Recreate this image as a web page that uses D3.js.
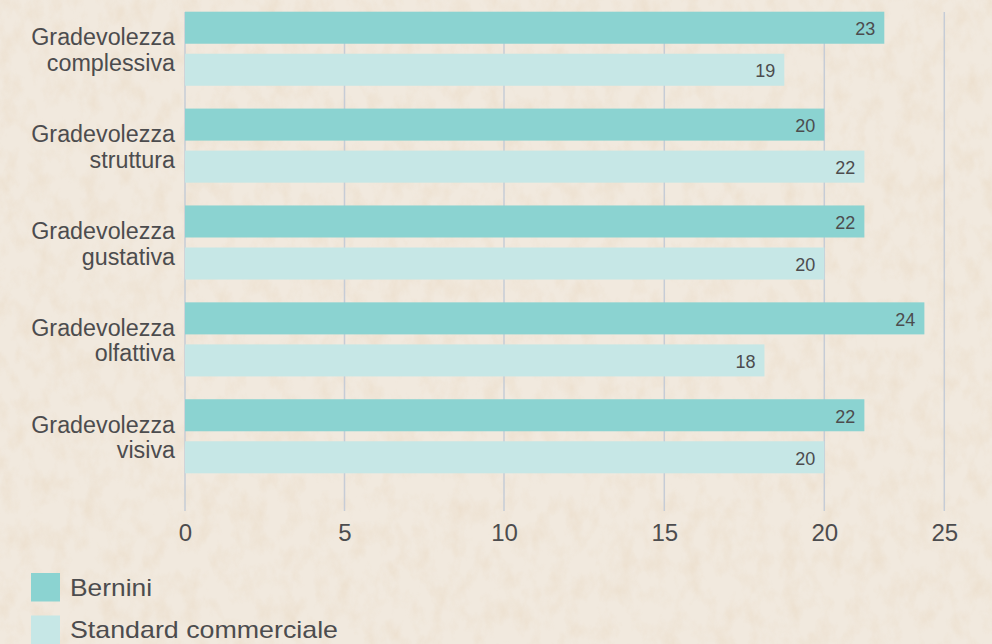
<!DOCTYPE html>
<html>
<head>
<meta charset="utf-8">
<script src="https://cdn.jsdelivr.net/npm/d3@7"></script>
<style>
  html, body { margin: 0; padding: 0; background: #efe5d8; }
  svg { display: block; }
</style>
</head>
<body>
<svg id="chart" width="992" height="644"></svg>
<script>
// categories (two-line labels)
const categories = [
    ["Gradevolezza", "complessiva"],
    ["Gradevolezza", "struttura"],
    ["Gradevolezza", "gustativa"],
    ["Gradevolezza", "olfattiva"],
    ["Gradevolezza", "visiva"]
];
const series = ["Bernini", "Standard commerciale"];

// printed values
const berniniValues = [23, 20, 22, 24, 22];
const standardValues = [19, 22, 20, 18, 20];

// bar lengths as drawn, read against the axis
const berniniBars = [22.5, 20, 21.67, 24.17, 21.67];
const standardBars = [18.75, 21.67, 20, 18.13, 20];

// axis ticks and where the original put them
const tickValues = [0, 5, 10, 15, 20, 25];
const tickPos = [185, 344.5, 504, 664.3, 824.3, 944.3];

const colors = ["#8bd3d1", "#c6e7e6"];
const textColor = "#4c4c4e";
const font = "'Liberation Sans', Arial, Helvetica, sans-serif";

const svg = d3.select("#chart");
const W = 992, H = 644;

// paper background
const defs = svg.append("defs");
const f = defs.append("filter").attr("id", "paper")
    .attr("x", 0).attr("y", 0).attr("width", "100%").attr("height", "100%");
f.append("feTurbulence").attr("type", "fractalNoise")
    .attr("baseFrequency", "0.06 0.04").attr("numOctaves", 4).attr("seed", 7);
f.append("feColorMatrix").attr("type", "matrix")
    .attr("values", "0 0 0 0 0.78  0 0 0 0 0.62  0 0 0 0 0.44  1.8 0 0 0 -0.75");

svg.append("rect").attr("width", W).attr("height", H).attr("fill", "#f1e9de");
svg.append("rect").attr("width", W).attr("height", H)
    .attr("filter", "url(#paper)").attr("opacity", 0.35);

// scales
const x = d3.scaleLinear().domain(tickValues).range(tickPos);

const y = d3.scaleBand()
    .domain(d3.range(categories.length))
    .range([11.7, 473.3])
    .paddingInner(0.2355)
    .paddingOuter(0);

const ySub = d3.scaleBand()
    .domain(d3.range(series.length))
    .range([0, y.bandwidth()])
    .paddingInner(0.238);

// gridlines
svg.append("g")
    .selectAll("line")
    .data(tickValues)
    .join("line")
    .attr("x1", d => x(d)).attr("x2", d => x(d))
    .attr("y1", 12).attr("y2", 511)
    .attr("stroke", "#c6ccd6")
    .attr("stroke-width", 1.5);

// bars
const rows = categories.map((c, i) => ({
    i,
    values: [berniniValues[i], standardValues[i]],
    bars: [berniniBars[i], standardBars[i]]
}));

const group = svg.append("g")
    .selectAll("g")
    .data(rows)
    .join("g")
    .attr("transform", d => `translate(0,${y(d.i)})`);

group.selectAll("rect")
    .data(d => d.bars.map((b, s) => ({ s, b })))
    .join("rect")
    .attr("x", x(0))
    .attr("y", d => ySub(d.s))
    .attr("width", d => x(d.b) - x(0))
    .attr("height", ySub.bandwidth())
    .attr("fill", d => colors[d.s]);

group.selectAll("text.val")
    .data(d => d.bars.map((b, s) => ({ s, b, v: d.values[s] })))
    .join("text")
    .attr("class", "val")
    .attr("x", d => x(d.b) - 9)
    .attr("y", d => ySub(d.s) + ySub.bandwidth() / 2 + 7.5)
    .attr("text-anchor", "end")
    .attr("font-family", font)
    .attr("font-size", 18)
    .attr("fill", textColor)
    .text(d => d.v);

// category labels
const lab = svg.append("g")
    .selectAll("text")
    .data(categories)
    .join("text")
    .attr("text-anchor", "end")
    .attr("font-family", font)
    .attr("font-size", 23.3)
    .attr("fill", textColor);

lab.selectAll("tspan")
    .data((d, i) => d.map((t, k) => ({ t, k, i })))
    .join("tspan")
    .attr("x", 175)
    .attr("y", d => y(d.i) + y.bandwidth() / 2 + (d.k === 0 ? -3.5 : 22))
    .text(d => d.t);

// x axis labels
const axis = d3.axisBottom(x).tickValues(tickValues).tickSize(0).tickPadding(10);
const ax = svg.append("g")
    .attr("transform", "translate(0,514)")
    .call(axis);
ax.select(".domain").remove();
ax.selectAll("text")
    .attr("font-family", font)
    .attr("font-size", 24)
    .attr("fill", textColor);

// legend (the original's legend type runs a little wider)
const legendWidths = [82, 268];
const legend = svg.append("g")
    .selectAll("g")
    .data(series)
    .join("g")
    .attr("transform", (d, i) => `translate(31,${573 + i * 42.5})`);

legend.append("rect")
    .attr("width", 29)
    .attr("height", 28.5)
    .attr("fill", (d, i) => colors[i]);

legend.append("text")
    .attr("x", 39)
    .attr("y", 22.5)
    .attr("font-family", font)
    .attr("font-size", 24)
    .attr("fill", textColor)
    .attr("textLength", (d, i) => legendWidths[i])
    .attr("lengthAdjust", "spacingAndGlyphs")
    .text(d => d);
</script>
</body>
</html>
